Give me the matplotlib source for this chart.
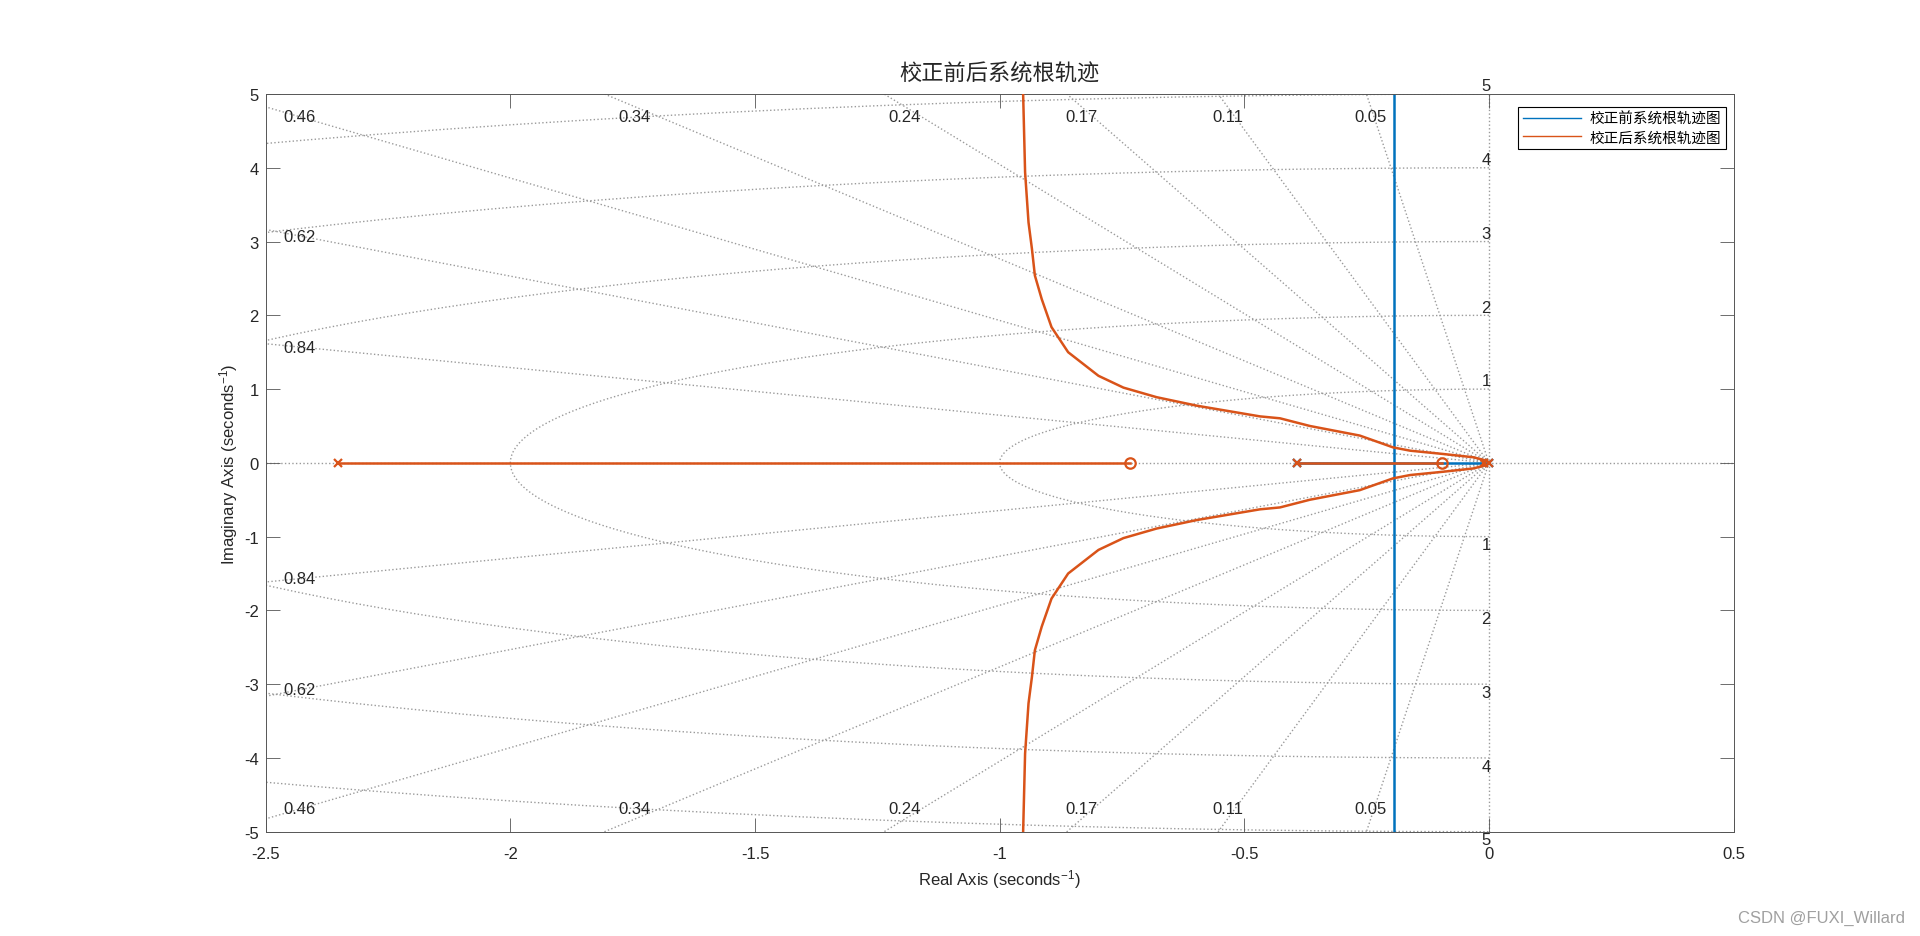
import numpy as np
import matplotlib
matplotlib.use('Agg')
import matplotlib.pyplot as plt

plt.rcParams['font.family'] = ['Liberation Sans', 'Noto Sans CJK SC', 'DejaVu Sans']
plt.rcParams['mathtext.fontset'] = 'custom'
plt.rcParams['mathtext.rm'] = 'Liberation Sans'
plt.rcParams['mathtext.it'] = 'Liberation Sans:italic'

# values
zeta_vals = [0.05, 0.11, 0.17, 0.24, 0.34, 0.46, 0.62, 0.84]
wn_vals = [1, 2, 3, 4, 5]

# uncompensated system: poles at 0 and -0.393, breakaway at -0.195
before_poles = [0.0, -0.393]
before_break = -0.195

# compensated system
after_poles = [0.0, -0.01, -0.393, -2.353]
after_zeros = [-0.095, -0.733]
after_real_segments = [(-2.353, -0.733), (-0.393, -0.095)]
# upper complex branch (lower one is its conjugate)
branch_re = [0.0, -0.005, -0.032, -0.093, -0.161, -0.196, -0.264, -0.366, -0.427,
             -0.468, -0.509, -0.597, -0.679, -0.747, -0.798, -0.860, -0.894, -0.914,
             -0.928, -0.934, -0.941, -0.948, -0.952, -0.957]
branch_im = [0.0, 0.03, 0.076, 0.12, 0.165, 0.21, 0.37, 0.50, 0.604,
             0.63, 0.676, 0.775, 0.89, 1.02, 1.18, 1.50, 1.84, 2.22,
             2.54, 2.90, 3.26, 3.94, 5.0, 6.0]

blue = '#0072BD'
orange = '#D95319'
grid_c = '#9a9a9a'
txt_c = '#262626'
axis_c = '#555555'

fig = plt.figure(figsize=(19.2, 9.37), dpi=100)
ax = fig.add_axes([0.1384, 0.1113, 0.7645, 0.7873])

# s-plane grid
ax.axhline(0, color=grid_c, ls=':', lw=1.0, zorder=0)
ax.plot([0, 0], [-5, 5], color=grid_c, ls=':', lw=1.0, zorder=0)
for z in zeta_vals:
    s = np.sqrt(1 - z ** 2)
    ax.plot([0, -20 * z], [0, 20 * s], color=grid_c, ls=':', lw=1.0, zorder=0)
    ax.plot([0, -20 * z], [0, -20 * s], color=grid_c, ls=':', lw=1.0, zorder=0)
    # label near where the ray leaves the plot
    if 2.5 * s / z < 5:
        lx, ly = -2.43, 2.43 * s / z
    else:
        lx, ly = -4.83 * z / s, 4.69
    for sgn in (1, -1):
        ax.text(lx, sgn * ly, f'{z:.2f}', ha='center', va='center',
                fontsize=12, color=txt_c, zorder=1)
th = np.linspace(np.pi / 2, 3 * np.pi / 2, 200)
for w in wn_vals:
    ax.plot(w * np.cos(th), w * np.sin(th), color=grid_c, ls=':', lw=1.0, zorder=0)
    ax.text(0.004, w + 0.01, str(w), ha='right', va='bottom', fontsize=12,
            color=txt_c, clip_on=False)
    ax.text(0.004, -w - 0.01, str(w), ha='right', va='top', fontsize=12,
            color=txt_c, clip_on=False)

# before compensation
ax.plot([before_poles[1], before_poles[0]], [0, 0], color=blue, lw=1.8, zorder=2)
ax.plot([before_break, before_break], [-6, 6], color=blue, lw=1.8, zorder=2,
        label='校正前系统根轨迹图')
ax.plot(before_poles, [0] * len(before_poles), 'x', color=blue, ms=6, mew=1.6, zorder=2)

# after compensation
for a, b in after_real_segments:
    ax.plot([a, b], [0, 0], color=orange, lw=1.8, zorder=3)
ax.plot(branch_re, branch_im, color=orange, lw=1.8, zorder=3,
        label='校正后系统根轨迹图')
ax.plot(branch_re, [-v for v in branch_im], color=orange, lw=1.8, zorder=3)
ax.plot(after_poles, [0] * len(after_poles), 'x', color=orange, ms=6, mew=1.6, zorder=4)
ax.plot(after_zeros, [0] * len(after_zeros), 'o', mfc='none', mec=orange, ms=7.5,
        mew=1.6, zorder=4)

ax.set_xlim(-2.5, 0.5)
ax.set_ylim(-5, 5)
ax.set_xticks(np.arange(-2.5, 0.51, 0.5))
ax.set_yticks(np.arange(-5, 6, 1))
ax.set_xticklabels(['-2.5', '-2', '-1.5', '-1', '-0.5', '0', '0.5'])
ax.set_yticklabels([str(v) for v in range(-5, 6)])
ax.tick_params(direction='in', length=10, width=0.6, top=True, right=True,
               labelsize=12, colors=axis_c, labelcolor=txt_c)
ax.tick_params(axis='x', pad=10)
ax.tick_params(axis='y', pad=5)
for sp in ax.spines.values():
    sp.set_color(axis_c)
    sp.set_linewidth(0.7)

ax.set_xlabel('Real Axis (seconds$^{-1}$)', fontsize=12, color=txt_c, labelpad=5)
ax.set_ylabel('Imaginary Axis (seconds$^{-1}$)', fontsize=12, color=txt_c, labelpad=3)
ax.set_title('校正前后系统根轨迹', fontsize=16, color=txt_c, pad=10,
             family=['Noto Sans CJK SC', 'DejaVu Sans'])

leg = ax.legend(loc='upper right', bbox_to_anchor=(0.8992, 0.885),
                bbox_transform=fig.transFigure, borderaxespad=0,
                fancybox=False, framealpha=1, edgecolor='black',
                handlelength=4.0, handletextpad=0.6, labelspacing=0.3,
                borderpad=0.35,
                prop={'family': ['Noto Sans CJK SC'], 'size': 10.5})
leg.get_frame().set_linewidth(0.8)
for h in leg.get_lines():
    h.set_linewidth(1.0)

fig.text(0.992, 0.0203, 'CSDN @FUXI_Willard', ha='right', va='center',
         fontsize=12, color='#a0a0a0')

fig.savefig('out.png', dpi=100)
